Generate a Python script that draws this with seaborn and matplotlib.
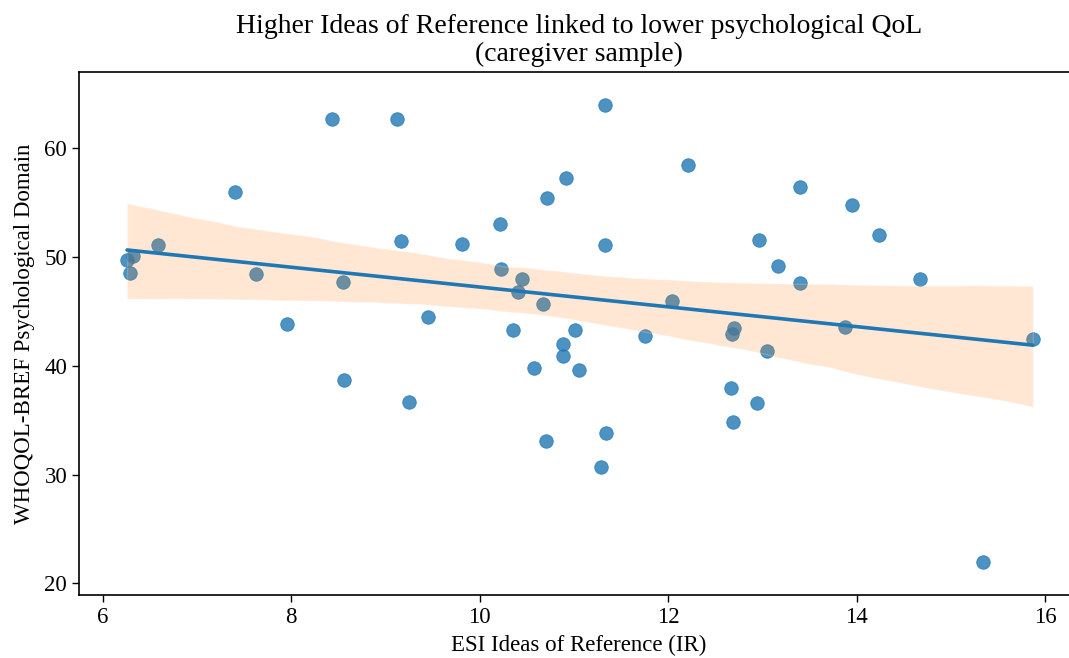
import numpy as np
import pandas as pd
import matplotlib
matplotlib.use("Agg")
import matplotlib.pyplot as plt
import seaborn as sns

# ESI Ideas of Reference (x) vs WHOQOL-BREF psychological domain (y), caregiver sample
ir_scores = [6.26, 6.29, 6.32, 6.59, 7.40, 7.63, 7.96, 8.43, 8.55, 8.56,
             9.12, 9.17, 9.25, 9.45, 9.81, 10.22, 10.23, 10.35, 10.41, 10.45,
             10.58, 10.67, 10.70, 10.72, 10.88, 10.89, 10.92, 11.01, 11.06, 11.29,
             11.33, 11.33, 11.34, 11.76, 12.04, 12.21, 12.67, 12.68, 12.70, 12.69,
             12.94, 12.96, 13.05, 13.17, 13.40, 13.40, 13.88, 13.95, 14.24, 14.67,
             15.34, 15.87]
psych_qol = [49.7, 48.5, 50.1, 51.1, 56.0, 48.4, 43.8, 62.7, 47.7, 38.7,
             62.7, 51.5, 36.7, 44.5, 51.2, 53.0, 48.9, 43.3, 46.8, 48.0,
             39.8, 45.7, 33.1, 55.4, 42.0, 40.9, 57.3, 43.3, 39.6, 30.7,
             64.0, 51.1, 33.8, 42.7, 46.0, 58.5, 38.0, 42.9, 43.5, 34.8,
             36.6, 51.6, 41.4, 49.2, 56.4, 47.6, 43.6, 54.8, 52.0, 48.0,
             22.0, 42.5]
x_ticks = [6, 8, 10, 12, 14, 16]
y_ticks = [20, 30, 40, 50, 60]

df = pd.DataFrame({"IR": ir_scores, "QoL": psych_qol})

sns.set_style("ticks")
plt.rcParams["font.family"] = ["Liberation Serif", "DejaVu Serif"]
plt.rcParams["text.color"] = "black"
plt.rcParams["axes.labelcolor"] = "black"

fig = plt.figure(figsize=(10.69, 6.58), dpi=100)
ax = fig.add_axes([0.0739, 0.0957, 0.9355, 0.7948])

sns.regplot(data=df, x="IR", y="QoL", ax=ax, color="C0", seed=0,
            scatter_kws={"s": 95, "alpha": 0.8, "linewidths": 0.6},
            line_kws={"lw": 2.6})

# confidence band in orange, drawn over the points
band = ax.collections[1]
band.set_facecolor("C1")
band.set_alpha(0.18)

ax.set_xlim(5.75, 16.36)
ax.set_ylim(18.93, 67.0)
ax.set_xticks(x_ticks)
ax.set_yticks(y_ticks)
ax.tick_params(labelsize=16.5, length=5, width=1, colors="black")
for s in ax.spines.values():
    s.set_linewidth(1.2)
    s.set_color("black")

ax.set_title("Higher Ideas of Reference linked to lower psychological QoL\n(caregiver sample)",
             fontsize=20, linespacing=1.15, pad=8)
ax.set_xlabel("ESI Ideas of Reference (IR)", fontsize=16.5, labelpad=5)
ax.set_ylabel("WHOQOL-BREF Psychological Domain", fontsize=16.5, labelpad=7)

fig.savefig("out.png", dpi=100)
